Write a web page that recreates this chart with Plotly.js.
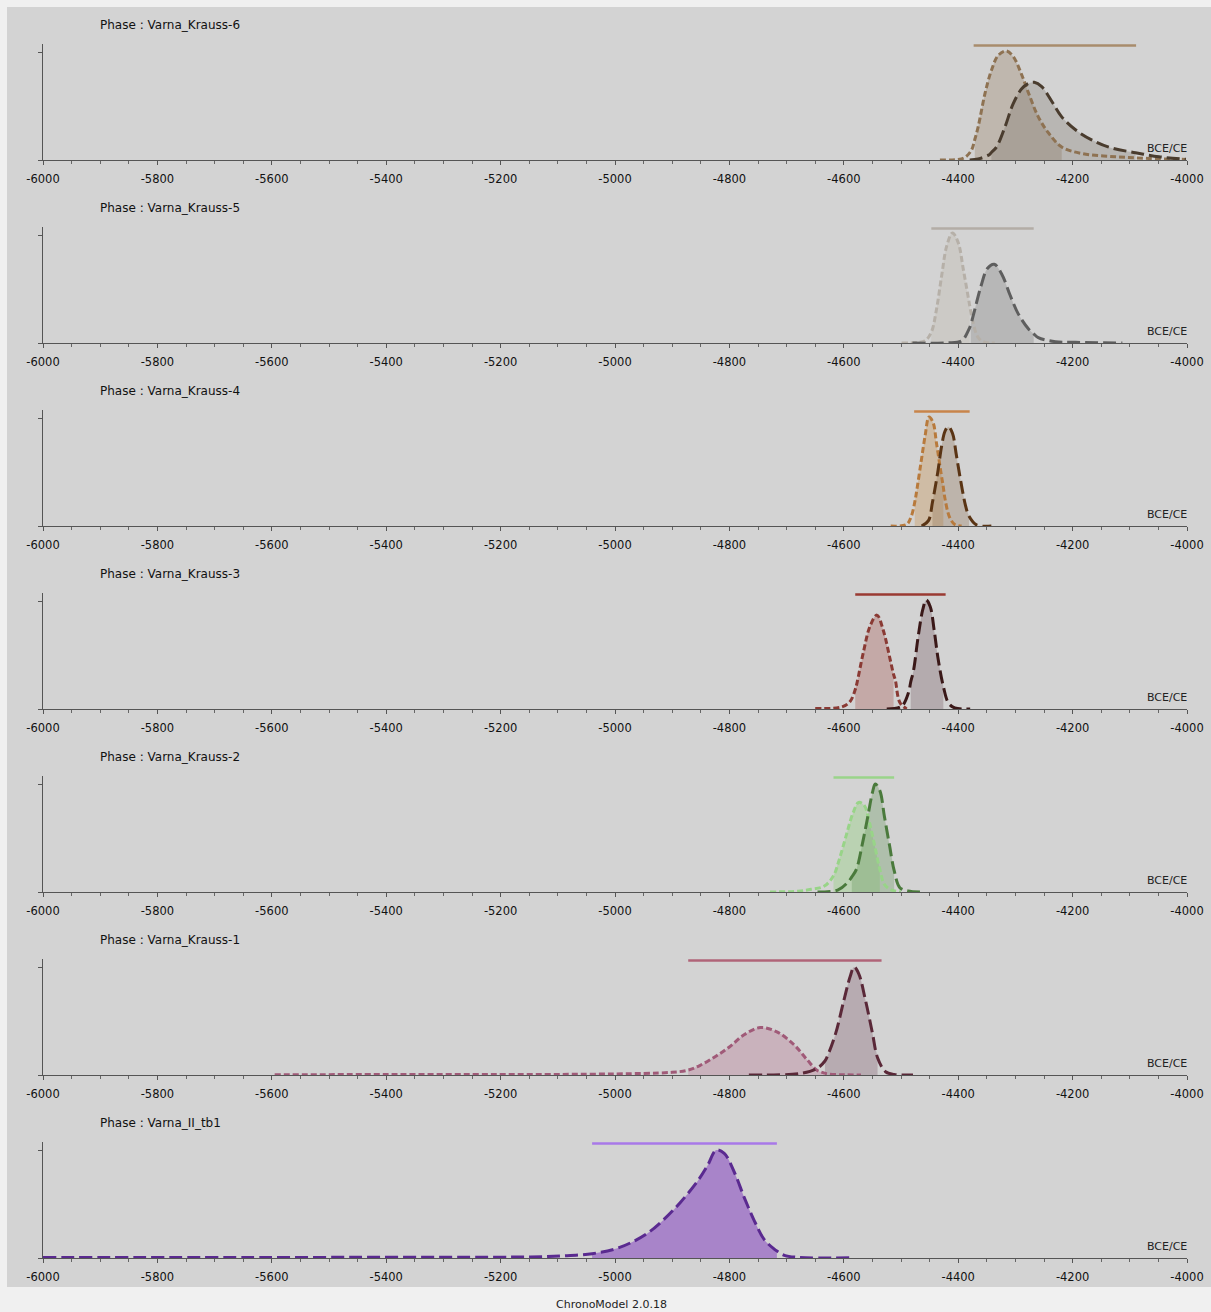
<!DOCTYPE html>
<html><head><meta charset="utf-8">
<script src="https://cdn.plot.ly/plotly-3.0.1.min.js"></script>
<style>html,body{margin:0;padding:0;background:#f0f0f0;}#chart{width:1211px;height:1312px;}</style>
</head><body><div id="chart"></div>
<script>
// ---------- DATA ----------
const phaseNames = ['Varna_Krauss-6','Varna_Krauss-5','Varna_Krauss-4','Varna_Krauss-3','Varna_Krauss-2','Varna_Krauss-1','Varna_II_tb1'];
const axisUnit = 'BCE/CE';
const footerText = 'ChronoModel 2.0.18';
const xTicks = [-6000,-5800,-5600,-5400,-5200,-5000,-4800,-4600,-4400,-4200,-4000];

// Varna_Krauss-6
const k6BeginX = [-4432,-4400,-4388,-4377,-4371,-4365,-4353,-4342,-4330,-4316,-4304,-4289,-4277,-4260,-4242,-4219,-4184,-4125,-4067,-4002];
const k6BeginY = [0,0.005,0.025,0.09,0.19,0.31,0.62,0.83,0.97,1.01,0.96,0.79,0.62,0.40,0.25,0.12,0.06,0.03,0.015,0.005];
const k6BeginHpd = [-4371,-4219];
const k6EndX = [-4380,-4365,-4347,-4342,-4333,-4318,-4304,-4289,-4277,-4267,-4254,-4236,-4219,-4195,-4166,-4131,-4090,-4049,-4002];
const k6EndY = [0,0.01,0.045,0.07,0.12,0.31,0.52,0.66,0.71,0.72,0.68,0.54,0.40,0.28,0.185,0.11,0.068,0.03,0.006];
const k6EndHpd = [-4342,-4090];
const k6Interval = [-4373,-4089];

// Varna_Krauss-5
const k5BeginX = [-4499,-4470,-4458,-4447,-4438,-4429,-4420,-4410,-4400,-4391,-4382,-4380,-4374,-4365,-4353,-4336];
const k5BeginY = [0,0.005,0.02,0.10,0.31,0.62,0.90,1.02,0.93,0.68,0.41,0.35,0.19,0.05,0.006,0];
const k5BeginHpd = [-4447,-4380];
const k5EndX = [-4480,-4420,-4394,-4381,-4378,-4371,-4360,-4349,-4337,-4324,-4309,-4295,-4277,-4268,-4260,-4230,-4195,-4113];
const k5EndY = [0,0.002,0.02,0.13,0.17,0.31,0.53,0.69,0.73,0.64,0.44,0.27,0.13,0.085,0.05,0.012,0.006,0];
const k5EndHpd = [-4378,-4268];
const k5Interval = [-4447,-4268];

// Varna_Krauss-4
const k4BeginX = [-4518,-4490,-4482,-4476,-4473,-4465,-4458,-4451,-4444,-4438,-4430,-4426,-4423,-4415,-4406,-4394];
const k4BeginY = [0,0.015,0.09,0.22,0.31,0.59,0.83,1.01,0.96,0.77,0.49,0.36,0.25,0.08,0.015,0];
const k4BeginHpd = [-4476,-4426];
const k4EndX = [-4464,-4452,-4445,-4436,-4429,-4423,-4417,-4410,-4403,-4395,-4387,-4381,-4368,-4342];
const k4EndY = [0,0.05,0.22,0.49,0.74,0.88,0.92,0.86,0.65,0.40,0.185,0.09,0.01,0];
const k4EndHpd = [-4445,-4381];
const k4Interval = [-4477,-4380];

// Varna_Krauss-3
const k3BeginX = [-4650,-4603,-4589,-4580,-4577,-4566,-4554,-4542,-4531,-4519,-4513,-4510,-4502,-4490];
const k3BeginY = [0.005,0.02,0.07,0.18,0.24,0.52,0.77,0.87,0.73,0.46,0.32,0.27,0.06,0];
const k3BeginHpd = [-4580,-4513];
const k3EndX = [-4525,-4499,-4487,-4483,-4478,-4470,-4462,-4456,-4449,-4442,-4435,-4426,-4417,-4406,-4379];
const k3EndY = [0,0.025,0.15,0.25,0.36,0.67,0.92,1.01,0.95,0.73,0.46,0.21,0.055,0.01,0];
const k3EndHpd = [-4483,-4426];
const k3Interval = [-4580,-4422];

// Varna_Krauss-2
const k2BeginX = [-4729,-4680,-4657,-4634,-4618,-4608,-4596,-4584,-4574,-4564,-4555,-4546,-4537,-4529,-4517,-4500];
const k2BeginY = [0,0.008,0.025,0.055,0.15,0.30,0.52,0.73,0.83,0.80,0.64,0.43,0.21,0.07,0.02,0];
const k2BeginHpd = [-4618,-4537];
const k2EndX = [-4646,-4610,-4593,-4586,-4578,-4567,-4558,-4550,-4545,-4537,-4529,-4520,-4512,-4502,-4488,-4464];
const k2EndY = [0,0.02,0.09,0.14,0.21,0.46,0.70,0.92,1.0,0.94,0.70,0.43,0.20,0.04,0.01,0];
const k2EndHpd = [-4586,-4512];
const k2Interval = [-4618,-4512];

// Varna_Krauss-1
const k1BeginX = [-5595,-5400,-5200,-5050,-4950,-4900,-4872,-4851,-4825,-4800,-4775,-4746,-4717,-4687,-4664,-4647,-4635,-4629,-4600,-4570];
const k1BeginY = [0.003,0.004,0.005,0.007,0.015,0.025,0.045,0.09,0.17,0.26,0.37,0.44,0.40,0.28,0.14,0.045,0.02,0.01,0.002,0];
const k1BeginHpd = [-4872,-4635];
const k1EndX = [-4766,-4676,-4647,-4633,-4629,-4614,-4600,-4589,-4582,-4574,-4562,-4550,-4541,-4527,-4512,-4479];
const k1EndY = [0,0.015,0.06,0.13,0.17,0.39,0.69,0.91,1.0,0.94,0.69,0.39,0.16,0.03,0.005,0];
const k1EndHpd = [-4633,-4541];
const k1Interval = [-4872,-4534];

// Varna_II_tb1 (single curve)
const tbX = [-6000,-5600,-5300,-5148,-5089,-5040,-5002,-4973,-4943,-4914,-4885,-4856,-4838,-4823,-4809,-4791,-4774,-4756,-4739,-4721,-4717,-4704,-4680,-4586];
const tbY = [0.004,0.005,0.008,0.01,0.02,0.04,0.08,0.14,0.23,0.36,0.52,0.71,0.86,1.0,0.97,0.79,0.56,0.34,0.17,0.08,0.065,0.025,0.006,0.002];
const tbHpd = [-5040,-4717];
const tbInterval = [-5040,-4717];

// ---------- STYLE ----------
const FONT = 'DejaVu Sans, Verdana, sans-serif';
const intervalColors = ['#a88c6c','#b3ada6','#c8844a','#9a3a32','#9ad48a','#b06478','#a878e8'];
const beginLineColors = ['#8e7252','#b6b0a8','#b87a3c','#8a3a34','#98d488','#a05a78',null];
const endLineColors   = ['#4a3c2e','#5e5e5e','#5a3414','#3a1818','#4a7a3c','#5a2838','#5a2a90'];
const beginFillColors = ['rgba(150,125,95,0.32)','rgba(195,190,182,0.45)','rgba(200,150,90,0.38)','rgba(170,100,95,0.38)','rgba(150,210,130,0.4)','rgba(180,110,140,0.32)',null];
const endFillColors   = ['rgba(110,100,90,0.26)','rgba(120,120,120,0.3)','rgba(140,110,80,0.3)','rgba(110,80,90,0.3)','rgba(100,150,90,0.32)','rgba(120,80,100,0.3)','rgba(140,80,195,0.6)'];

const panels = [
  {begin:[k6BeginX,k6BeginY,k6BeginHpd], end:[k6EndX,k6EndY,k6EndHpd], interval:k6Interval},
  {begin:[k5BeginX,k5BeginY,k5BeginHpd], end:[k5EndX,k5EndY,k5EndHpd], interval:k5Interval},
  {begin:[k4BeginX,k4BeginY,k4BeginHpd], end:[k4EndX,k4EndY,k4EndHpd], interval:k4Interval},
  {begin:[k3BeginX,k3BeginY,k3BeginHpd], end:[k3EndX,k3EndY,k3EndHpd], interval:k3Interval},
  {begin:[k2BeginX,k2BeginY,k2BeginHpd], end:[k2EndX,k2EndY,k2EndHpd], interval:k2Interval},
  {begin:[k1BeginX,k1BeginY,k1BeginHpd], end:[k1EndX,k1EndY,k1EndHpd], interval:k1Interval},
  {begin:null, end:[tbX,tbY,tbHpd], interval:tbInterval}
];

// ---------- GEOMETRY ----------
const W = 1211, H = 1312;
const M = {l:43, r:24, t:44, b:54};
const plotH = H - M.t - M.b;
const yf = p => (H - M.b - p) / plotH;
const PANEL_STEP = 183, AXIS0 = 160, PANEL_H = 116;
const Y_TOP = 1.075;
const BAR_Y = 1.06;

const traces = [];
const layout = {
  width: W, height: H,
  margin: {l:M.l, r:M.r, t:M.t, b:M.b, pad:0},
  paper_bgcolor: '#f0f0f0',
  plot_bgcolor: 'rgba(0,0,0,0)',
  showlegend: false,
  font: {family: FONT, color: '#222'},
  shapes: [{
    type:'rect', xref:'paper', yref:'paper', layer:'below',
    x0: (7 - M.l)/(W - M.l - M.r), x1: (W - M.l)/(W - M.l - M.r),
    y0: yf(1287), y1: yf(7),
    fillcolor:'#d3d3d3', line:{width:0}
  }],
  annotations: []
};

function sub(arr, lo, hi, xs) {
  const out = [];
  for (let i = 0; i < xs.length; i++) if (xs[i] >= lo && xs[i] <= hi) out.push(arr[i]);
  return out;
}

panels.forEach((p, k) => {
  const n = k + 1;
  const xa = n === 1 ? 'x' : 'x' + n;
  const ya = n === 1 ? 'y' : 'y' + n;
  const axisPix = AXIS0 + PANEL_STEP * k;
  layout['xaxis' + (n === 1 ? '' : n)] = {
    domain: [0, 1], range: [-6000, -4000], anchor: ya,
    tickvals: xTicks, ticktext: xTicks.map(String),
    ticks: 'outside', ticklen: 4, tickwidth: 1, tickcolor: '#555',
    minor: {dtick: 50, tick0: -6000, ticks: 'outside', ticklen: 3, tickcolor: '#666', showgrid: false},
    showline: true, linecolor: '#555', linewidth: 1,
    showgrid: false, zeroline: false, fixedrange: true,
    tickfont: {family: FONT, size: 11.5, color: '#111'},
    ticklabelstandoff: 4
  };
  layout['yaxis' + (n === 1 ? '' : n)] = {
    domain: [yf(axisPix), yf(axisPix - PANEL_H)], range: [0, Y_TOP], anchor: xa,
    tickvals: [0, 1], ticktext: ['', ''], ticks: 'outside', ticklen: 4, tickcolor: '#555',
    showline: true, linecolor: '#555', linewidth: 1,
    showgrid: false, zeroline: false, fixedrange: true
  };

  const curves = [];
  if (p.begin) curves.push({d: p.begin, line: beginLineColors[k], fill: beginFillColors[k], dash: '6px,3px'});
  curves.push({d: p.end, line: endLineColors[k], fill: endFillColors[k], dash: '13px,5px'});

  curves.forEach(c => {
    const [xs, ys, hpd] = c.d;
    traces.push({
      type: 'scatter', mode: 'lines', xaxis: xa, yaxis: ya,
      x: sub(xs, hpd[0], hpd[1], xs), y: sub(ys, hpd[0], hpd[1], xs),
      line: {width: 0, shape: 'spline', smoothing: 1, color: c.fill},
      fill: 'tozeroy', fillcolor: c.fill, hoverinfo: 'skip'
    });
  });
  curves.forEach(c => {
    const [xs, ys] = c.d;
    traces.push({
      type: 'scatter', mode: 'lines', xaxis: xa, yaxis: ya,
      x: xs, y: ys,
      line: {width: 3, shape: 'spline', smoothing: 1, color: c.line, dash: c.dash},
      hoverinfo: 'skip'
    });
  });
  traces.push({
    type: 'scatter', mode: 'lines', xaxis: xa, yaxis: ya,
    x: p.interval, y: [BAR_Y, BAR_Y],
    line: {width: 2.5, color: intervalColors[k]}, hoverinfo: 'skip'
  });
  traces.push({
    type: 'scatter', mode: 'markers', xaxis: xa, yaxis: ya, cliponaxis: false,
    x: [-3996], y: [0],
    marker: {symbol: 'triangle-right', size: 7, color: '#222'}, hoverinfo: 'skip'
  });

  layout.annotations.push({
    xref: 'paper', yref: ya + ' domain', x: (98 - M.l) / (W - M.l - M.r), y: 135 / PANEL_H,
    xanchor: 'left', yanchor: 'middle', showarrow: false,
    text: 'Phase : ' + phaseNames[k], font: {family: FONT, size: 12, color: '#111'}
  });
  layout.annotations.push({
    xref: xa, yref: ya, x: -4000, y: 0, yshift: 3, xshift: 2,
    xanchor: 'right', yanchor: 'bottom', showarrow: false,
    text: axisUnit, font: {family: FONT, size: 11, color: '#222'}
  });
});

layout.annotations.push({
  xref: 'paper', yref: 'paper', x: (611 - M.l) / (W - M.l - M.r), y: yf(1305),
  xanchor: 'center', yanchor: 'middle', showarrow: false,
  text: footerText, font: {family: FONT, size: 11, color: '#222'}
});

Plotly.newPlot('chart', traces, layout, {displayModeBar: false, staticPlot: true});
</script>
</body></html>
